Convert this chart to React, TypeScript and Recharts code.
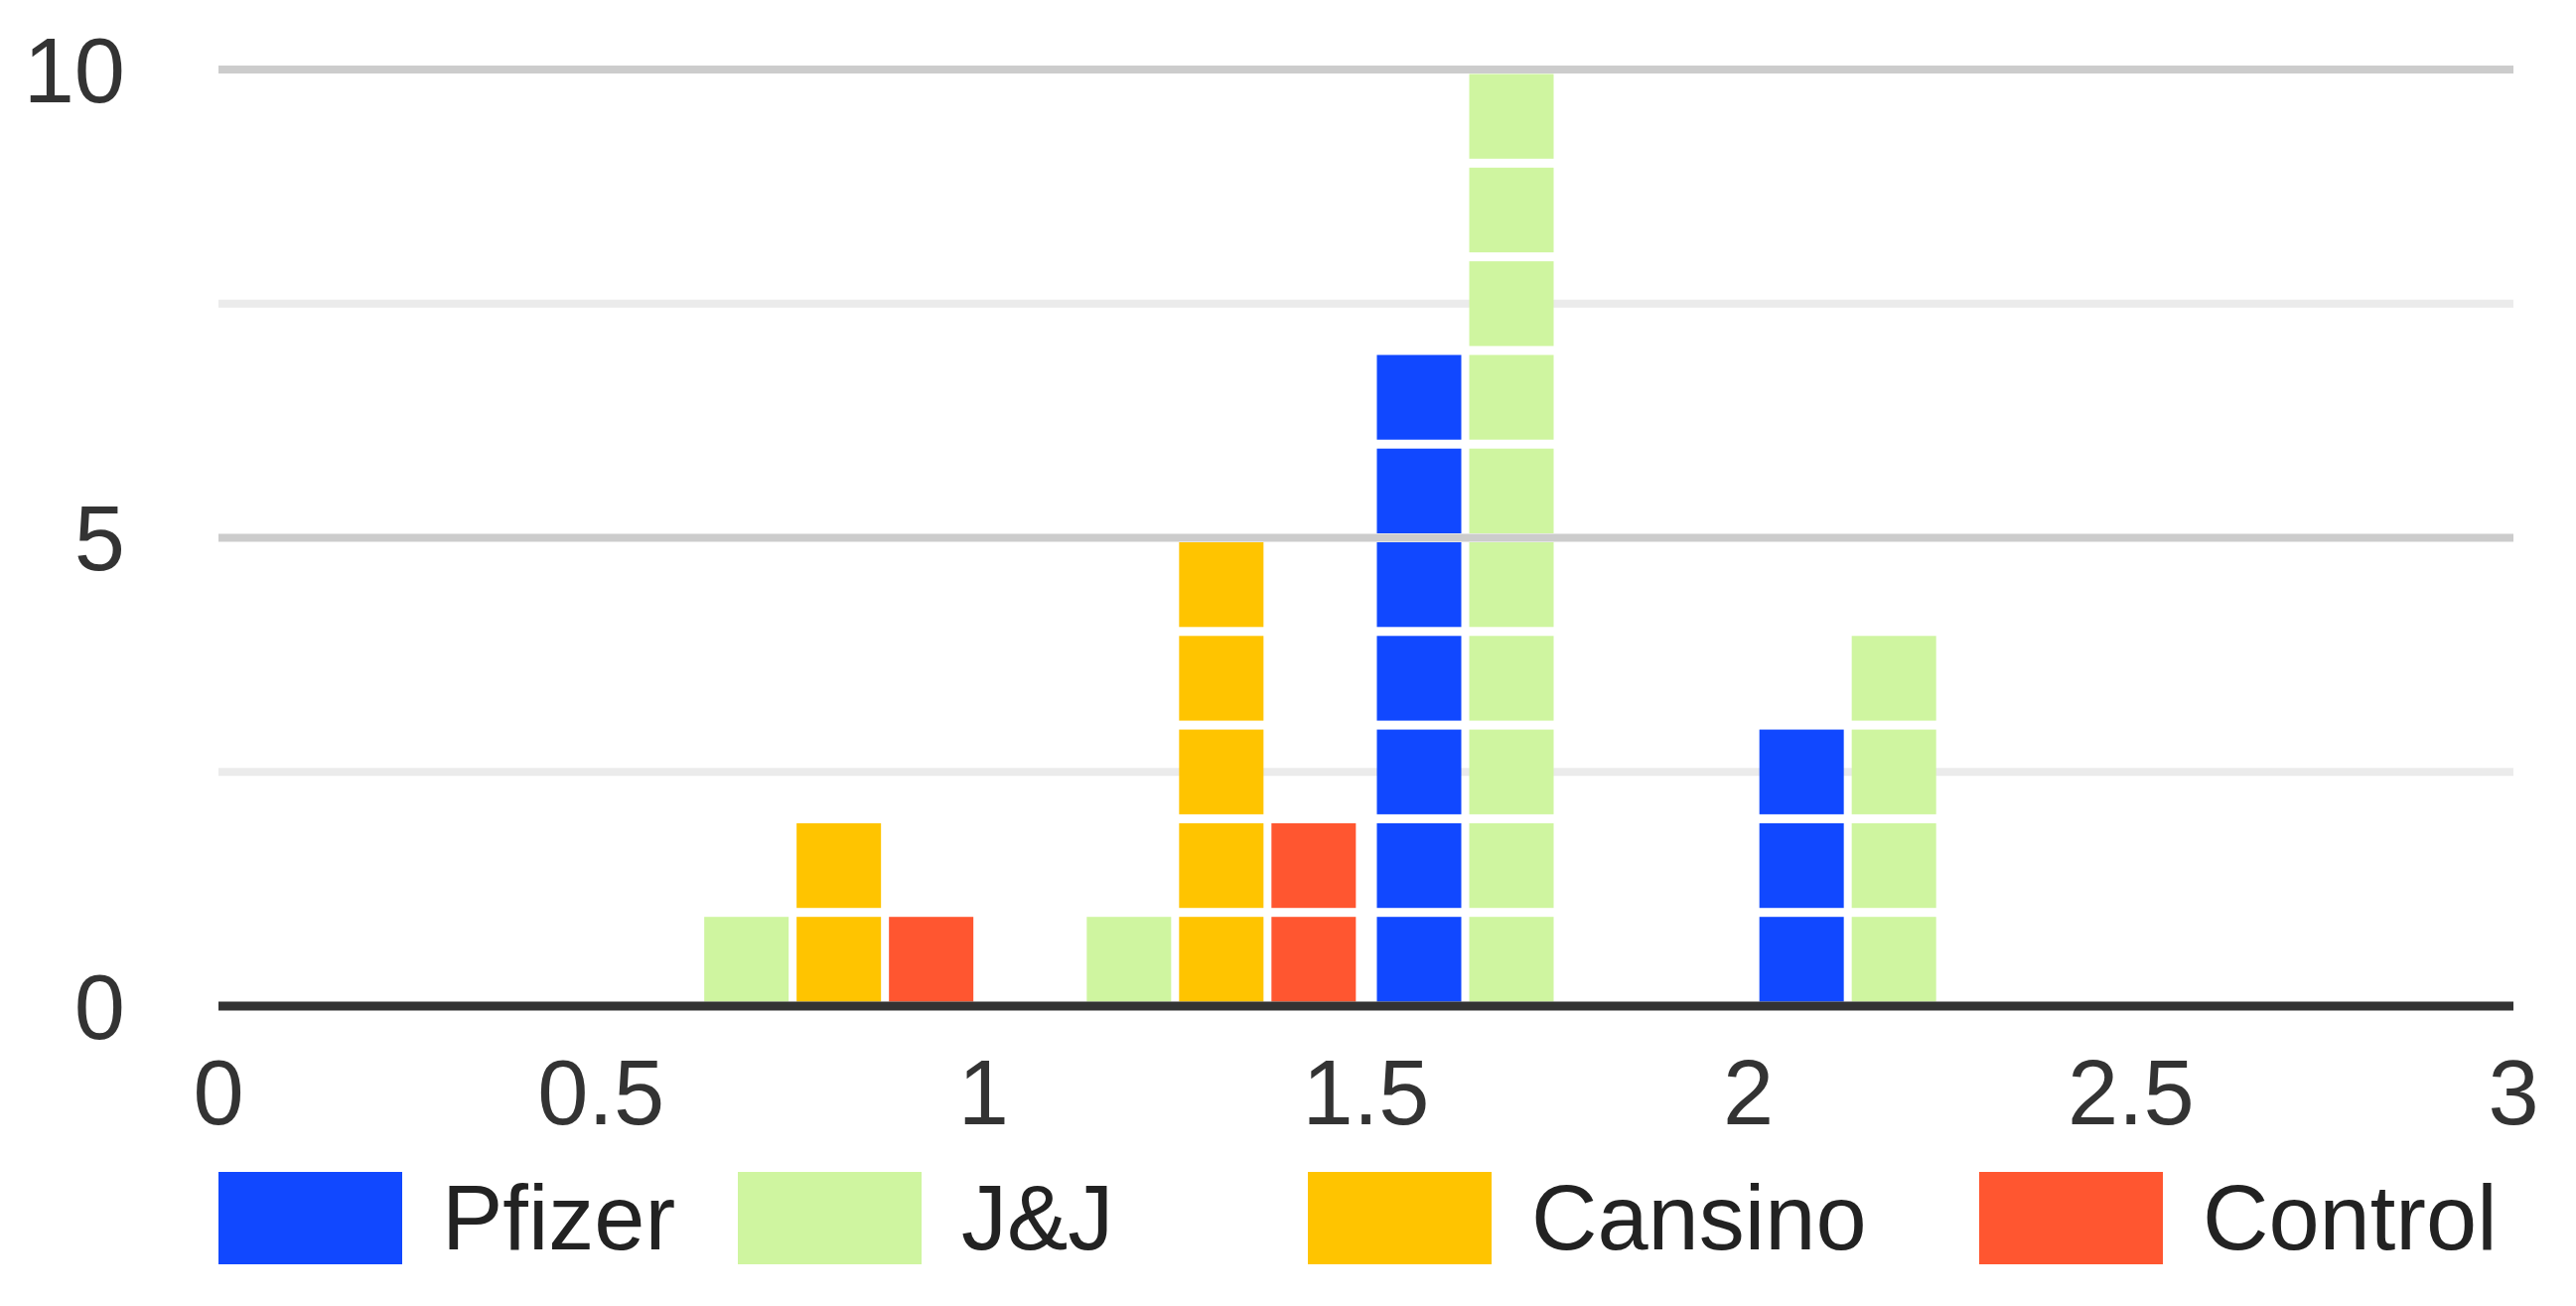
import React from 'react';
import { BarChart, Bar, XAxis, YAxis, CartesianGrid, Legend, ReferenceLine } from 'recharts';

// histogram buckets (centre of each 0.5 wide bin) and counts per series
const binCenters = [0.25, 0.75, 1.25, 1.75, 2.25, 2.75];
const pfizer = [0, 0, 0, 7, 3, 0];
const jnj = [0, 1, 1, 10, 4, 0];
const cansino = [0, 2, 5, 0, 0, 0];
const control = [0, 1, 2, 0, 0, 0];

const xTicks = [0, 0.5, 1, 1.5, 2, 2.5, 3];
const yTicks = [0, 2.5, 5, 7.5, 10];

const seriesNames = ['Pfizer', 'J&J', 'Cansino', 'Control'];
const seriesKeys = ['pfizer', 'jnj', 'cansino', 'control'];
const colors = ['#1148ff', '#cff5a0', '#ffc400', '#ff5630'];

const FONT = '"Liberation Sans", Arial, sans-serif';

const chartData = binCenters.map((bin, i) => ({
  bin,
  pfizer: pfizer[i],
  jnj: jnj[i],
  cansino: cansino[i],
  control: control[i],
}));

// draws a bar as a column of unit blocks with small gaps between them
const BlockBar = (props: any) => {
  const { x, y, width, height, fill, count } = props;
  if (!count || height <= 0) return null;
  const unit = height / count;
  const gap = 9;
  const blocks = [];
  for (let i = 0; i < count; i++) {
    blocks.push(
      <rect key={i} x={x} y={y + i * unit + gap / 2} width={width} height={unit - gap} fill={fill} />
    );
  }
  return <g>{blocks}</g>;
};

const legendX = [220, 743, 1317, 1993];

const renderLegend = () => (
  <div style={{ position: 'relative', height: 146, width: '100%' }}>
    {seriesNames.map((name, i) => (
      <div
        key={name}
        style={{ position: 'absolute', left: legendX[i], top: 27, display: 'flex', alignItems: 'center' }}
      >
        <div style={{ width: 185, height: 93, background: colors[i] }} />
        <span style={{ marginLeft: 40, fontSize: 92, fontFamily: FONT, color: '#222', lineHeight: '93px', whiteSpace: 'nowrap' }}>
          {name}
        </span>
      </div>
    ))}
  </div>
);

const gridLine = (p: any) => (
  <line
    key={p.key}
    x1={p.x1}
    x2={p.x2}
    y1={p.y1}
    y2={p.y2}
    stroke={p.index % 2 === 0 ? '#cccccc' : '#ebebeb'}
    strokeWidth={8}
  />
);

const App: React.FC = () => {
  return (
    <div style={{ position: 'absolute', left: 0, top: 0, width: 2594, height: 1315, background: '#fff' }}>
      <BarChart
        width={2594}
        height={1315}
        data={chartData}
        margin={{ top: 70, right: 63, bottom: 16, left: 0 }}
        barGap={8}
      >
        <CartesianGrid vertical={false} horizontal={gridLine} />
        <XAxis
          dataKey="bin"
          type="number"
          domain={[0, 3]}
          ticks={xTicks}
          interval={0}
          height={140}
          axisLine={false}
          tickLine={false}
          tickSize={0}
          tickMargin={54}
          tick={{ fill: '#333', fontSize: 92, fontFamily: FONT }}
        />
        <YAxis
          type="number"
          domain={[0, 10]}
          ticks={yTicks}
          interval={0}
          width={220}
          axisLine={false}
          tickLine={false}
          tickSize={0}
          tickMargin={94}
          tickFormatter={(v: number) => (Number.isInteger(v) ? String(v) : '')}
          tick={{ fill: '#333', fontSize: 92, fontFamily: FONT }}
        />
        <Legend verticalAlign="bottom" content={renderLegend} />
        {seriesKeys.map((key, i) => (
          <Bar
            key={key}
            dataKey={key}
            name={seriesNames[i]}
            fill={colors[i]}
            barSize={85}
            isAnimationActive={false}
            shape={(p: any) => <BlockBar {...p} count={p.payload[key]} />}
          />
        ))}
        <ReferenceLine y={0} stroke="#333" strokeWidth={9} />
      </BarChart>
    </div>
  );
};

export default App;
